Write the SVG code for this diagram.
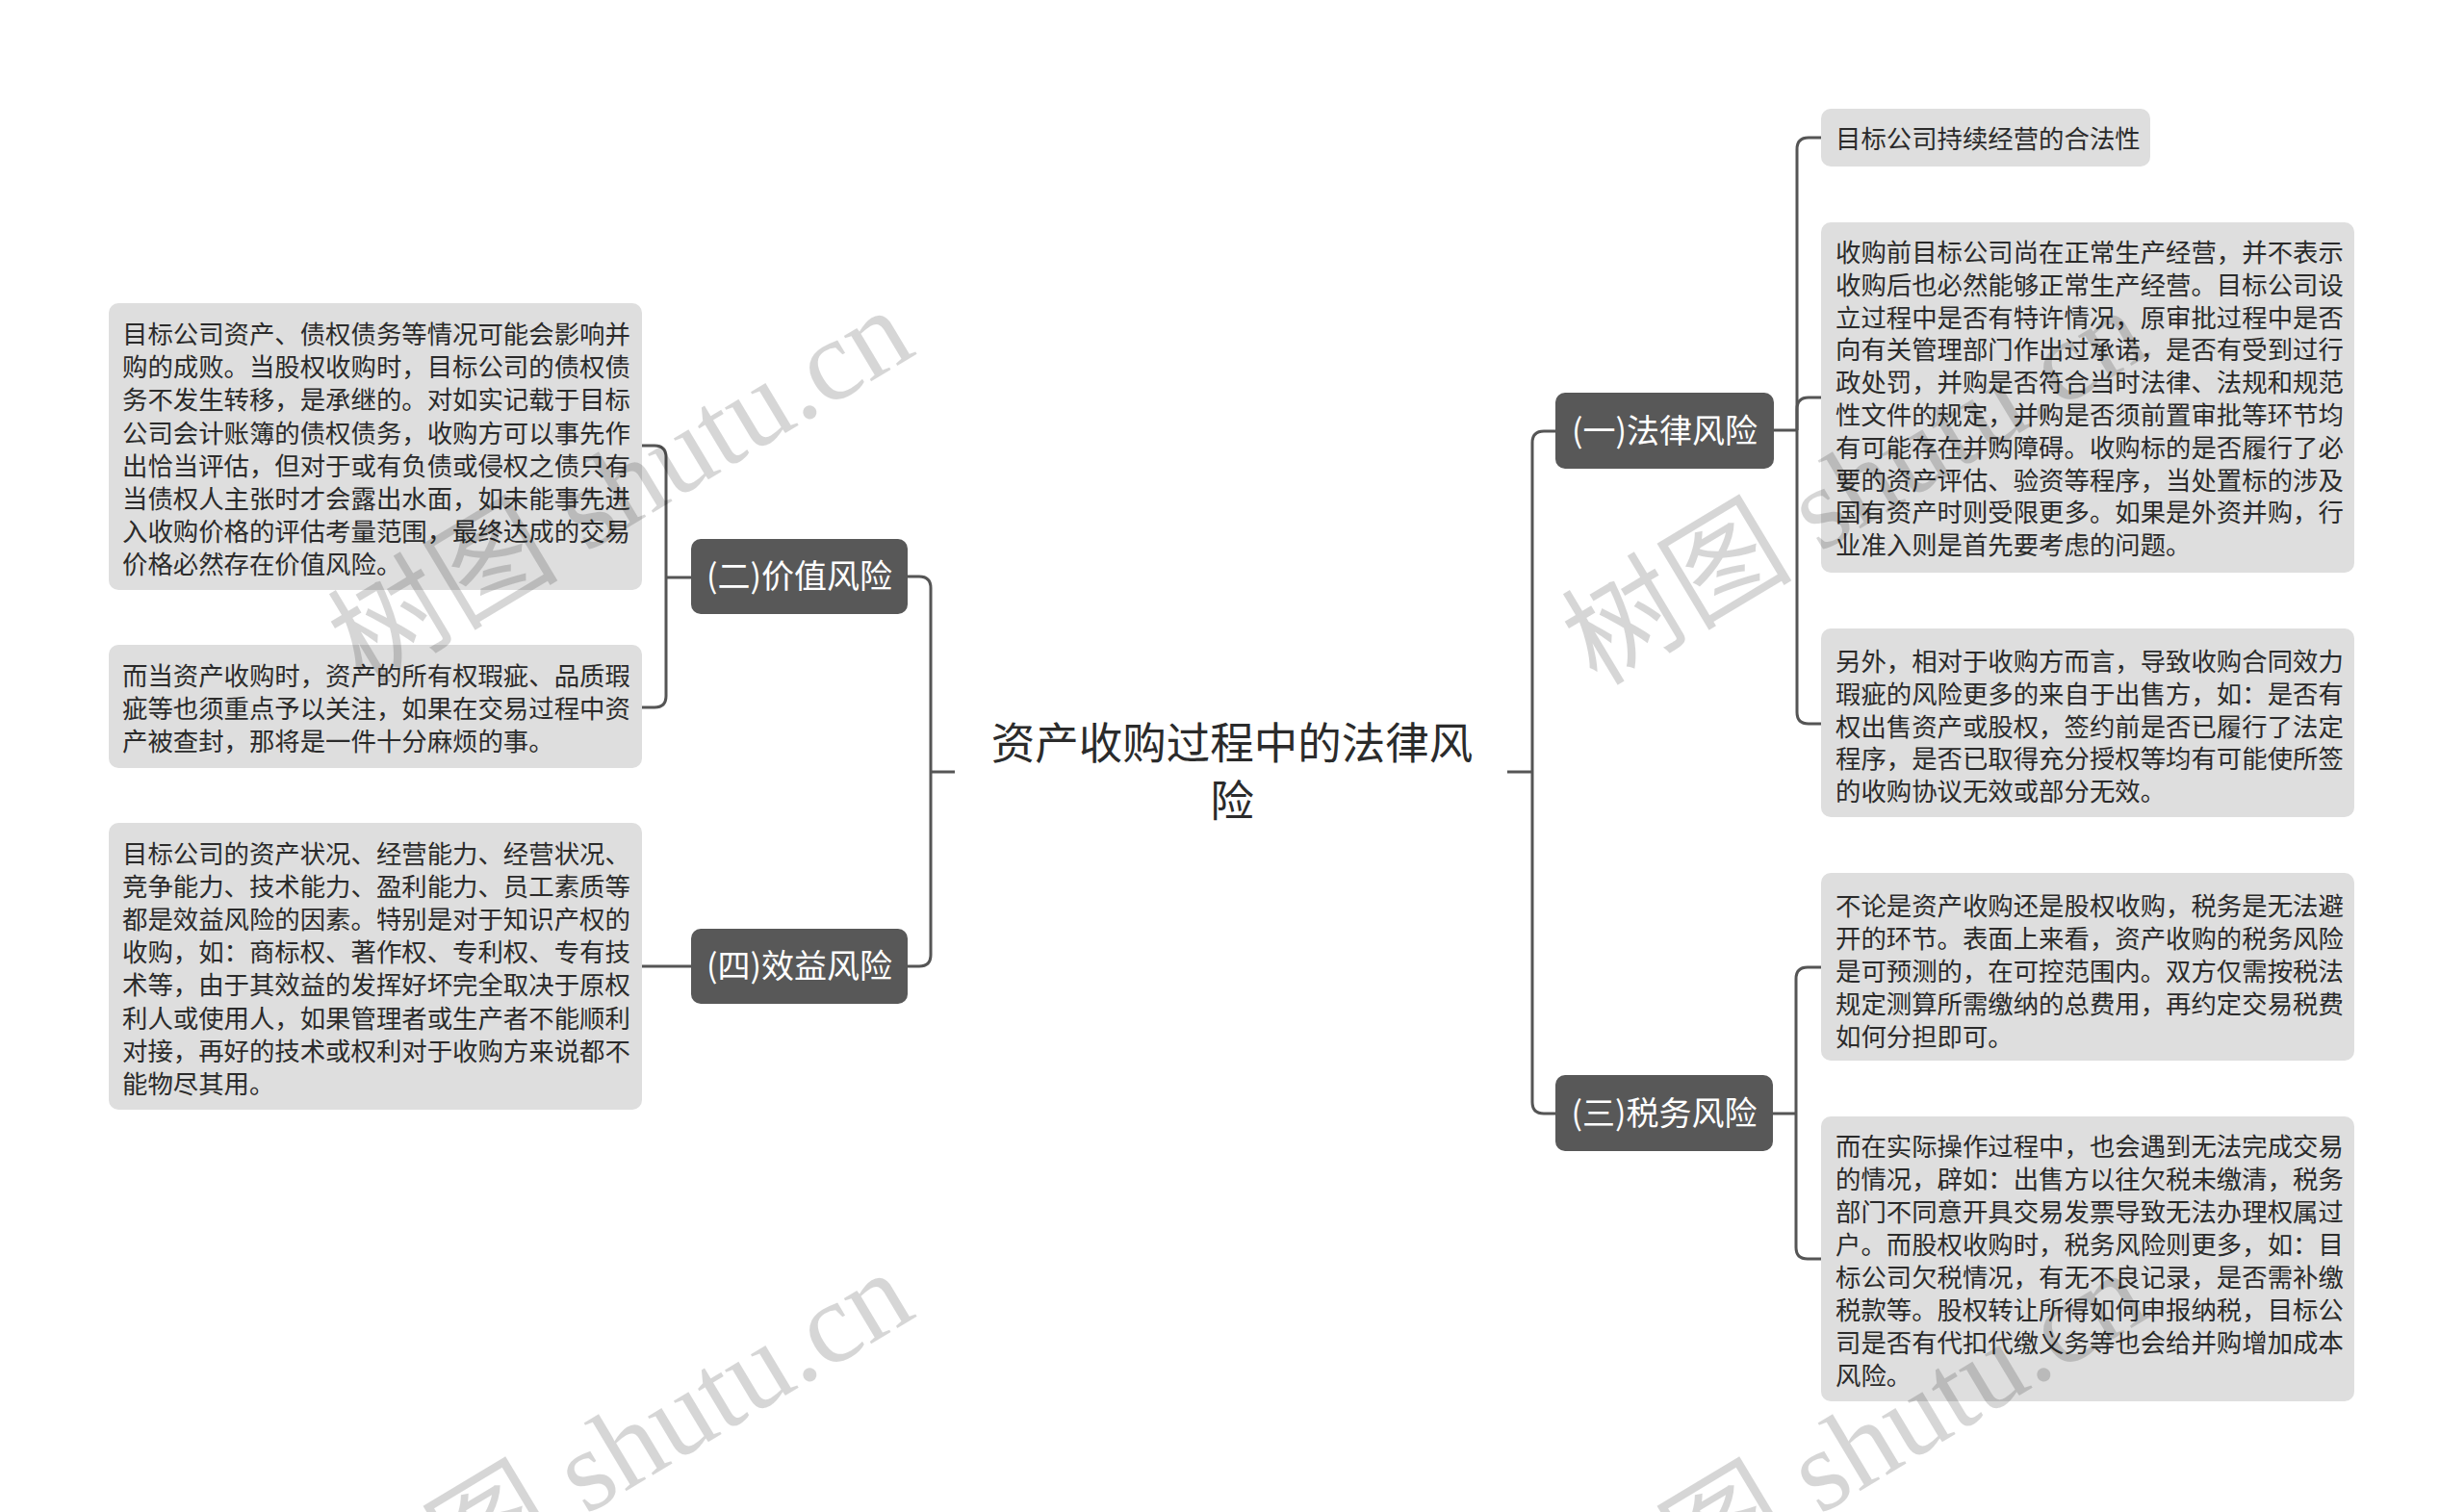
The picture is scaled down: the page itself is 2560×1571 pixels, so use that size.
<svg xmlns="http://www.w3.org/2000/svg" width="2560" height="1571" viewBox="0 0 2560 1571">
<style>
.bg{fill:#ffffff}
.main rect{fill:#585858}
.main text{fill:#ffffff;font-family:"Noto Sans CJK SC","Noto Sans",sans-serif;font-size:34px;text-anchor:middle}
.leaf rect{fill:#dedede}
.leaf text{fill:#2b2b2b;font-family:"Noto Sans CJK SC","Noto Sans",sans-serif;font-size:26.4px}
.root text{fill:#2b2b2b;font-family:"Noto Sans CJK SC","Noto Sans",sans-serif;font-size:45.5px;text-anchor:middle}
.conn path{fill:none;stroke:#555555;stroke-width:3}
.wm text{fill:#000000;fill-opacity:0.16;font-size:120px}
.wm .cjk{font-family:"Noto Sans CJK SC",sans-serif}
.wm .lat{font-family:"Liberation Serif",serif}
</style>
<rect class="bg" x="0" y="0" width="2560" height="1571"/>

<g id="connectors" class="conn">
  <path d="M992 802 H967"/>
  <path d="M967 802 V611 Q967 599 955 599 H943"/>
  <path d="M967 802 V992 Q967 1004 955 1004 H943"/>
  <path d="M718 600 H692"/>
  <path d="M692 600 V475 Q692 463 680 463 H667"/>
  <path d="M692 600 V723 Q692 735 680 735 H667"/>
  <path d="M718 1004 H667"/>
  <path d="M1566 802 H1592"/>
  <path d="M1592 802 V460 Q1592 448 1604 448 H1616"/>
  <path d="M1592 802 V1145 Q1592 1157 1604 1157 H1616"/>
  <path d="M1843 447 H1867"/>
  <path d="M1867 447 V155 Q1867 143 1879 143 H1892"/>
  <path d="M1867 447 V425 Q1867 413 1879 413 H1892"/>
  <path d="M1867 447 V740 Q1867 752 1879 752 H1892"/>
  <path d="M1842 1157 H1866"/>
  <path d="M1866 1157 V1017 Q1866 1005 1878 1005 H1892"/>
  <path d="M1866 1157 V1296 Q1866 1308 1878 1308 H1892"/>
</g>

<g id="root" class="root">
  <text x="1280" y="789">资产收购过程中的法律风</text>
  <text x="1280" y="849">险</text>
</g>

<g id="node-value" class="main">
  <rect x="718" y="560" width="225" height="78" rx="10"/>
  <text x="830.5" y="611">(二)价值风险</text>
</g>
<g id="node-benefit" class="main">
  <rect x="718" y="965" width="225" height="78" rx="10"/>
  <text x="830.5" y="1016">(四)效益风险</text>
</g>
<g id="node-legal" class="main">
  <rect x="1616" y="408" width="227" height="79" rx="10"/>
  <text x="1729.5" y="460">(一)法律风险</text>
</g>
<g id="node-tax" class="main">
  <rect x="1616" y="1117" width="226" height="79" rx="10"/>
  <text x="1729" y="1169">(三)税务风险</text>
</g>

<g id="leaf-value-1" class="leaf">
  <rect x="113" y="315" width="554" height="298" rx="10"/>
  <text y="357">
    <tspan x="127">目标公司资产、债权债务等情况可能会影响并</tspan>
    <tspan x="127" dy="34.2">购的成败。当股权收购时，目标公司的债权债</tspan>
    <tspan x="127" dy="34.2">务不发生转移，是承继的。对如实记载于目标</tspan>
    <tspan x="127" dy="34.2">公司会计账簿的债权债务，收购方可以事先作</tspan>
    <tspan x="127" dy="34.2">出恰当评估，但对于或有负债或侵权之债只有</tspan>
    <tspan x="127" dy="34.2">当债权人主张时才会露出水面，如未能事先进</tspan>
    <tspan x="127" dy="34.2">入收购价格的评估考量范围，最终达成的交易</tspan>
    <tspan x="127" dy="34.2">价格必然存在价值风险。</tspan>
  </text>
</g>
<g id="leaf-value-2" class="leaf">
  <rect x="113" y="670" width="554" height="128" rx="10"/>
  <text y="712">
    <tspan x="127">而当资产收购时，资产的所有权瑕疵、品质瑕</tspan>
    <tspan x="127" dy="34">疵等也须重点予以关注，如果在交易过程中资</tspan>
    <tspan x="127" dy="34">产被查封，那将是一件十分麻烦的事。</tspan>
  </text>
</g>
<g id="leaf-benefit-1" class="leaf">
  <rect x="113" y="855" width="554" height="298" rx="10"/>
  <text y="897">
    <tspan x="127">目标公司的资产状况、经营能力、经营状况、</tspan>
    <tspan x="127" dy="34.1">竞争能力、技术能力、盈利能力、员工素质等</tspan>
    <tspan x="127" dy="34.1">都是效益风险的因素。特别是对于知识产权的</tspan>
    <tspan x="127" dy="34.1">收购，如：商标权、著作权、专利权、专有技</tspan>
    <tspan x="127" dy="34.1">术等，由于其效益的发挥好坏完全取决于原权</tspan>
    <tspan x="127" dy="34.1">利人或使用人，如果管理者或生产者不能顺利</tspan>
    <tspan x="127" dy="34.1">对接，再好的技术或权利对于收购方来说都不</tspan>
    <tspan x="127" dy="34.1">能物尽其用。</tspan>
  </text>
</g>

<g id="leaf-legal-1" class="leaf">
  <rect x="1892" y="113" width="342" height="60" rx="10"/>
  <text x="1907" y="154">目标公司持续经营的合法性</text>
</g>
<g id="leaf-legal-2" class="leaf">
  <rect x="1892" y="231" width="554" height="364" rx="10"/>
  <text y="272">
    <tspan x="1907">收购前目标公司尚在正常生产经营，并不表示</tspan>
    <tspan x="1907" dy="33.8">收购后也必然能够正常生产经营。目标公司设</tspan>
    <tspan x="1907" dy="33.8">立过程中是否有特许情况，原审批过程中是否</tspan>
    <tspan x="1907" dy="33.8">向有关管理部门作出过承诺，是否有受到过行</tspan>
    <tspan x="1907" dy="33.8">政处罚，并购是否符合当时法律、法规和规范</tspan>
    <tspan x="1907" dy="33.8">性文件的规定，并购是否须前置审批等环节均</tspan>
    <tspan x="1907" dy="33.8">有可能存在并购障碍。收购标的是否履行了必</tspan>
    <tspan x="1907" dy="33.8">要的资产评估、验资等程序，当处置标的涉及</tspan>
    <tspan x="1907" dy="33.8">国有资产时则受限更多。如果是外资并购，行</tspan>
    <tspan x="1907" dy="33.8">业准入则是首先要考虑的问题。</tspan>
  </text>
</g>
<g id="leaf-legal-3" class="leaf">
  <rect x="1892" y="653" width="554" height="196" rx="10"/>
  <text y="697">
    <tspan x="1907">另外，相对于收购方而言，导致收购合同效力</tspan>
    <tspan x="1907" dy="33.8">瑕疵的风险更多的来自于出售方，如：是否有</tspan>
    <tspan x="1907" dy="33.8">权出售资产或股权，签约前是否已履行了法定</tspan>
    <tspan x="1907" dy="33.8">程序，是否已取得充分授权等均有可能使所签</tspan>
    <tspan x="1907" dy="33.8">的收购协议无效或部分无效。</tspan>
  </text>
</g>
<g id="leaf-tax-1" class="leaf">
  <rect x="1892" y="907" width="554" height="195" rx="10"/>
  <text y="951">
    <tspan x="1907">不论是资产收购还是股权收购，税务是无法避</tspan>
    <tspan x="1907" dy="34">开的环节。表面上来看，资产收购的税务风险</tspan>
    <tspan x="1907" dy="34">是可预测的，在可控范围内。双方仅需按税法</tspan>
    <tspan x="1907" dy="34">规定测算所需缴纳的总费用，再约定交易税费</tspan>
    <tspan x="1907" dy="34">如何分担即可。</tspan>
  </text>
</g>
<g id="leaf-tax-2" class="leaf">
  <rect x="1892" y="1160" width="554" height="296" rx="10"/>
  <text y="1201">
    <tspan x="1907">而在实际操作过程中，也会遇到无法完成交易</tspan>
    <tspan x="1907" dy="34">的情况，辟如：出售方以往欠税未缴清，税务</tspan>
    <tspan x="1907" dy="34">部门不同意开具交易发票导致无法办理权属过</tspan>
    <tspan x="1907" dy="34">户。而股权收购时，税务风险则更多，如：目</tspan>
    <tspan x="1907" dy="34">标公司欠税情况，有无不良记录，是否需补缴</tspan>
    <tspan x="1907" dy="34">税款等。股权转让所得如何申报纳税，目标公</tspan>
    <tspan x="1907" dy="34">司是否有代扣代缴义务等也会给并购增加成本</tspan>
    <tspan x="1907" dy="34">风险。</tspan>
  </text>
</g>

<g id="watermarks" class="wm">
  <text transform="translate(645 506) rotate(-31)" x="0" y="40" text-anchor="middle"><tspan class="cjk">树图</tspan><tspan class="lat"> shutu.cn</tspan></text>
  <text transform="translate(1927 506) rotate(-31)" x="0" y="40" text-anchor="middle"><tspan class="cjk">树图</tspan><tspan class="lat"> shutu.cn</tspan></text>
  <text transform="translate(645 1506) rotate(-31)" x="0" y="40" text-anchor="middle"><tspan class="cjk">树图</tspan><tspan class="lat"> shutu.cn</tspan></text>
  <text transform="translate(1927 1506) rotate(-31)" x="0" y="40" text-anchor="middle"><tspan class="cjk">树图</tspan><tspan class="lat"> shutu.cn</tspan></text>
</g>
</svg>
